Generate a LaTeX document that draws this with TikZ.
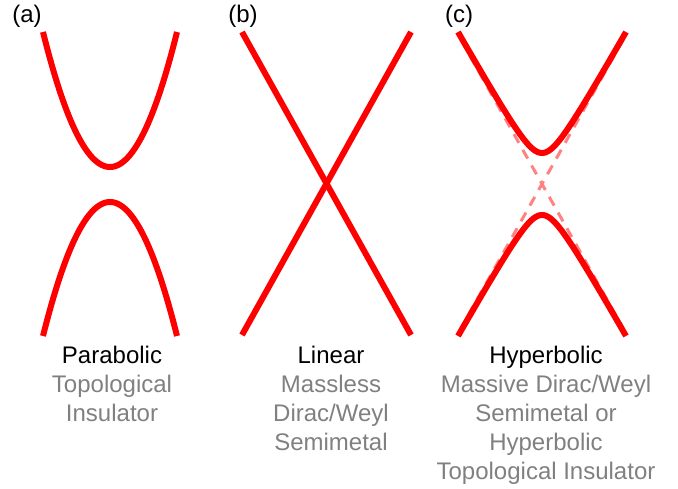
\documentclass[tikz,border=0pt]{standalone}
\usepackage{fontspec}
\setmainfont{Liberation Sans}
\usepackage{tikz}
\definecolor{descgray}{RGB}{128,128,128}
\definecolor{asymred}{RGB}{255,130,130}
\newcommand{\bandnote}[1]{\textcolor{descgray}{#1}}

\begin{document}
\begin{tikzpicture}[x=1pt,y=-1pt,
    band/.style={red, line width=6pt},
    asym/.style={asymred, line width=3pt, dash pattern=on 10pt off 8pt},
    tag/.style={anchor=base, inner sep=0pt, font=\fontsize{24}{29}\selectfont},
    caption/.style={anchor=north, inner sep=0pt, align=center, font=\fontsize{24}{29}\selectfont}]
            \useasboundingbox (0,0) rectangle (678,489);
            % (a) parabolic bands
            \draw[band] plot[domain=-67:67, samples=80] ({110+\x},{167-135*(\x/67)^2});
            \draw[band] plot[domain=-67:67, samples=80] ({110+\x},{202+134*(\x/67)^2});
            % (b) linear bands
            \draw[band] (242,32) -- (411,335);
            \draw[band] (411,32) -- (242,335);
            % (c) hyperbolic bands with asymptotes
            \draw[asym] (461,40) -- (623,328);
            \draw[asym] (623,40) -- (461,328);
            \draw[band] plot[domain=-84:84, samples=120] ({542+\x},{184-31*sqrt(1+(\x/17.5)^2)});
            \draw[band] plot[domain=-84:84, samples=120] ({542+\x},{184+31*sqrt(1+(\x/17.5)^2)});

            \node[tag] (la) at (27,23) {(a)};
            \node[tag] (lb) at (243,23) {(b)};
            \node[tag] (lc) at (459,23) {(c)};

            \node[caption] (ta) at (112,346) {Parabolic\\\bandnote{Topological}\\\bandnote{Insulator}};
            \node[caption] (tb) at (331,346) {Linear\\\bandnote{Massless}\\\bandnote{Dirac/Weyl}\\\bandnote{Semimetal}};
            \node[caption] (tc) at (546,346) {Hyperbolic\\\bandnote{Massive Dirac/Weyl}\\\bandnote{Semimetal or}\\\bandnote{Hyperbolic}\\\bandnote{Topological Insulator}};
        \end{tikzpicture}
\end{document}
